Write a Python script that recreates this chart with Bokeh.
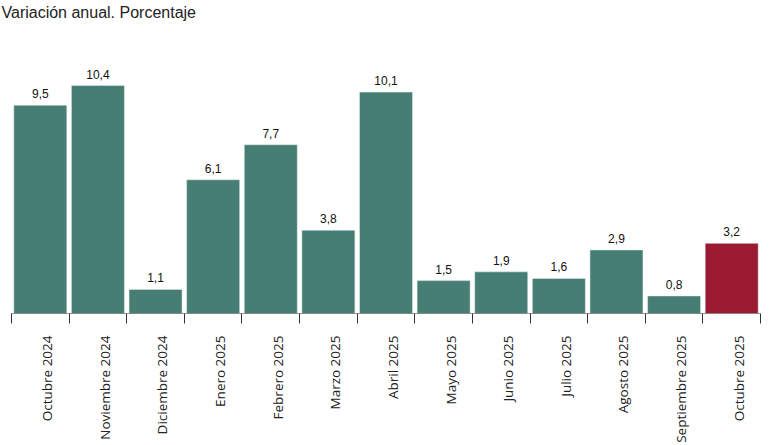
import math
from bokeh.plotting import figure
from bokeh.models import Range1d, FixedTicker, ColumnDataSource
from bokeh.core.properties import value
from bokeh.embed import file_html
from bokeh.resources import INLINE

categories = ["Octubre 2024", "Noviembre 2024", "Diciembre 2024", "Enero 2025",
              "Febrero 2025", "Marzo 2025", "Abril 2025", "Mayo 2025", "Junio 2025",
              "Julio 2025", "Agosto 2025", "Septiembre 2025", "Octubre 2025"]
values = [9.5, 10.4, 1.1, 6.1, 7.7, 3.8, 10.1, 1.5, 1.9, 1.6, 2.9, 0.8, 3.2]
value_labels = ["9,5", "10,4", "1,1", "6,1", "7,7", "3,8", "10,1", "1,5", "1,9",
                "1,6", "2,9", "0,8", "3,2"]
title_text = "Variación anual. Porcentaje"

TEAL = "#467e74"
RED = "#9c1932"
colors = [TEAL] * (len(values) - 1) + [RED]

n = len(categories)
xs = [i + 0.5 for i in range(n)]
px_per_cat = 749 / n
x_start = -11 / px_per_cat
y_end = 313 / 21.92

src = ColumnDataSource(dict(x=xs, top=values, color=colors, lab=value_labels))

p = figure(width=762, height=444, output_backend="svg", toolbar_location=None,
           x_range=Range1d(x_start, n), y_range=Range1d(0, y_end),
           frame_width=760, frame_height=313,
           min_border_left=0, min_border_right=2, min_border_top=0, min_border_bottom=0,
           y_axis_location=None, x_axis_location="below")
p.outline_line_color = None
p.grid.visible = False
p.background_fill_color = "white"

p.text(x=[x_start], y=[y_end], text=[title_text], text_align="left",
       text_baseline="top", x_offset=1, y_offset=3, text_font=value("Liberation Sans"),
       text_font_size="16px", text_color="#222222")

p.vbar(x="x", top="top", width=0.92, bottom=0, color="color", line_color="#e8eeee",
       line_width=0.5, source=src)
p.text(x="x", y="top", text="lab", source=src, text_align="center",
       text_baseline="bottom", y_offset=-7, text_font=value("Liberation Sans"),
       text_font_size="12px", text_color="#111111")
p.segment(x0=[0], y0=[0], x1=[n], y1=[0], line_color="#333333", line_width=1)

label_shift = 0.12
ax = p.xaxis[0]
ax.ticker = FixedTicker(ticks=[x + label_shift for x in xs],
                        minor_ticks=list(range(n + 1)))
ax.major_label_overrides = {x + label_shift: c for x, c in zip(xs, categories)}
ax.major_label_orientation = math.pi / 2
ax.major_tick_line_color = None
ax.major_tick_out = 0
ax.major_tick_in = 0
ax.minor_tick_out = 10
ax.minor_tick_in = 0
ax.minor_tick_line_color = "#333333"
ax.axis_line_color = None
ax.major_label_standoff = 12
ax.major_label_text_font = "Open Sans"
ax.major_label_text_font_size = "13.5px"
ax.major_label_text_color = "#222222"

open("out.html", "w").write(file_html(p, INLINE))
